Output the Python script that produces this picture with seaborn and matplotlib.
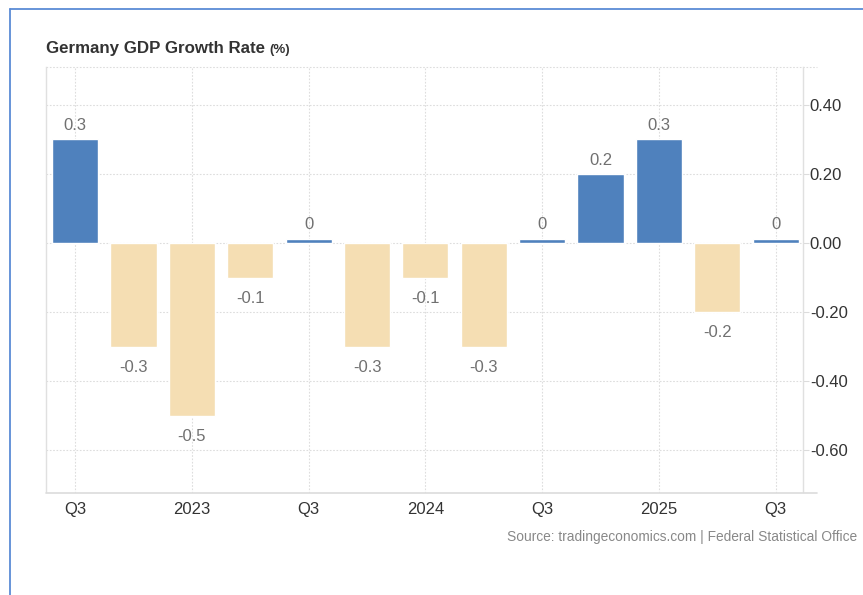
import numpy as np
import pandas as pd
import matplotlib
matplotlib.use('Agg')
import matplotlib.pyplot as plt
import seaborn as sns
from matplotlib.lines import Line2D

# quarterly GDP growth, Q3 2022 .. Q3 2025
quarters = ['Q3 2022', 'Q4 2022', 'Q1 2023', 'Q2 2023', 'Q3 2023', 'Q4 2023', 'Q1 2024',
            'Q2 2024', 'Q3 2024', 'Q4 2024', 'Q1 2025', 'Q2 2025', 'Q3 2025']
growth = [0.3, -0.3, -0.5, -0.1, 0.0, -0.3, -0.1, -0.3, 0.0, 0.2, 0.3, -0.2, 0.0]
tick_pos = [0, 2, 4, 6, 8, 10, 12]
tick_labels = ['Q3', '2023', 'Q3', '2024', 'Q3', '2025', 'Q3']
ytick_vals = [0.4, 0.2, 0.0, -0.2, -0.4, -0.6]

BLUE = '#4f81bd'
TAN = '#f5deb3'
GRID = '#dddddd'
ZERO_H = 0.012  # zero quarters are drawn as a thin sliver

sns.set_theme(style='white')
plt.rcParams['font.family'] = ['Liberation Sans', 'DejaVu Sans']

df = pd.DataFrame({'q': quarters, 'growth': growth})
df['pos'] = np.arange(len(df))
df['shown'] = df['growth'].where(df['growth'] != 0, ZERO_H)
df['sign'] = np.where(df['growth'] >= 0, 'up', 'down')

fig = plt.figure(figsize=(8.63, 5.95), dpi=100)
ax = fig.add_axes([46 / 863, 1 - 492.5 / 595, (803 - 46) / 863, (492.5 - 66.5) / 595])

sns.barplot(data=df, x='pos', y='shown', hue='sign', palette={'up': BLUE, 'down': TAN},
            dodge=False, width=0.79, legend=False, ax=ax, saturation=1, zorder=3,
            native_scale=True)

ax.set_xlim(-0.5, 12.47)
ax.set_ylim(-0.722, 0.511)

# value labels
for p, v in zip(df['pos'], df['growth']):
    txt = f'{v:g}' if v != 0 else '0'
    if v >= 0:
        top = v if v != 0 else ZERO_H
        ax.annotate(txt, (p, top), xytext=(0, 6.8), textcoords='offset points',
                    ha='center', va='baseline', fontsize=12, color='#707070')
    else:
        ax.annotate(txt, (p, v), xytext=(0, -18), textcoords='offset points',
                    ha='center', va='baseline', fontsize=12, color='#707070')

# axes & ticks
ax.yaxis.tick_right()
ax.set_yticks(ytick_vals)
ax.set_yticklabels([f'{v:.2f}' for v in ytick_vals])
ax.set_xticks(tick_pos)
ax.set_xticklabels(tick_labels)
ax.tick_params(axis='x', length=0, pad=7, labelsize=12, labelcolor='#333333')
ax.tick_params(axis='y', length=4.3, width=0.8, color='#dcdcdc', pad=0.6, labelsize=12,
               labelcolor='#333333', right=True, left=False)
ax.set_xlabel('')
ax.set_ylabel('')

ax.grid(True, axis='both', color=GRID, linestyle=(0, (1.5, 1.5)), linewidth=0.8, zorder=0)
ax.set_axisbelow(True)

for side in ['left', 'right']:
    ax.spines[side].set_color('#e0e0e0')
    ax.spines[side].set_linewidth(1)
ax.spines['bottom'].set_visible(False)
ax.spines['top'].set_visible(False)

# bottom axis line and top dotted border run slightly past the right spine
ax.add_line(Line2D([0, 1.018], [0, 0], transform=ax.transAxes, color='#dcdcdc',
                   linewidth=1.2, clip_on=False, zorder=4))
ax.add_line(Line2D([0, 1.018], [1, 1], transform=ax.transAxes, color=GRID,
                   linestyle=(0, (1.5, 1.5)), linewidth=0.8, clip_on=False))

# title
t = fig.text(46 / 863, 1 - 53 / 595, 'Germany GDP Growth Rate', fontsize=12.2,
             fontweight='bold', color='#333333', va='baseline', ha='left')
ax.annotate('(%)', xy=(1, 0), xycoords=t, xytext=(3, 0), textcoords='offset points',
            fontsize=9.5, fontweight='bold', color='#333333', va='bottom', ha='left',
            annotation_clip=False)

fig.text(857 / 863, 1 - 540.5 / 595, 'Source: tradingeconomics.com | Federal Statistical Office',
         fontsize=9.9, color='#888888', ha='right', va='baseline')

# blue frame at top and left
fig.add_artist(Line2D([10 / 863, 1], [1 - 9 / 595, 1 - 9 / 595], transform=fig.transFigure,
                      color='#5b8bd6', linewidth=1.3))
fig.add_artist(Line2D([10 / 863, 10 / 863], [0, 1 - 9 / 595], transform=fig.transFigure,
                      color='#5b8bd6', linewidth=1.3))

fig.savefig('out.png', dpi=100)
